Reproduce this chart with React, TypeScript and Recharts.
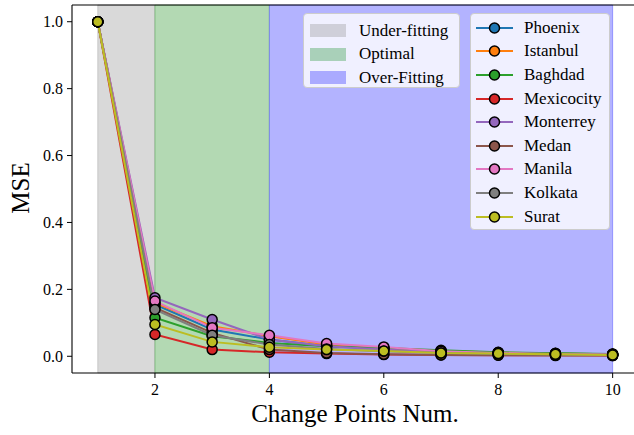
import { LineChart, Line, XAxis, YAxis, ReferenceArea, ReferenceLine, Label } from "recharts";

const changePoints = [1, 2, 3, 4, 5, 6, 7, 8, 9, 10];

const phoenix = [1.0, 0.155, 0.08, 0.05, 0.03, 0.022, 0.015, 0.01, 0.008, 0.006];
const istanbul = [1.0, 0.16, 0.09, 0.06, 0.035, 0.025, 0.016, 0.011, 0.008, 0.006];
const baghdad = [1.0, 0.115, 0.06, 0.04, 0.03, 0.025, 0.018, 0.012, 0.009, 0.007];
const mexicocity = [1.0, 0.065, 0.02, 0.012, 0.008, 0.005, 0.004, 0.003, 0.003, 0.002];
const monterrey = [1.0, 0.175, 0.11, 0.05, 0.03, 0.02, 0.012, 0.008, 0.006, 0.005];
const medan = [1.0, 0.145, 0.07, 0.02, 0.01, 0.006, 0.004, 0.003, 0.002, 0.002];
const manila = [1.0, 0.165, 0.085, 0.063, 0.038, 0.028, 0.015, 0.01, 0.007, 0.005];
const kolkata = [1.0, 0.14, 0.063, 0.035, 0.022, 0.015, 0.01, 0.007, 0.005, 0.004];
const surat = [1.0, 0.095, 0.043, 0.027, 0.02, 0.016, 0.01, 0.008, 0.006, 0.004];

const cities = [
  { name: "Phoenix", values: phoenix, color: "#1f77b4" },
  { name: "Istanbul", values: istanbul, color: "#ff7f0e" },
  { name: "Baghdad", values: baghdad, color: "#2ca02c" },
  { name: "Mexicocity", values: mexicocity, color: "#d62728" },
  { name: "Monterrey", values: monterrey, color: "#9467bd" },
  { name: "Medan", values: medan, color: "#8c564b" },
  { name: "Manila", values: manila, color: "#e377c2" },
  { name: "Kolkata", values: kolkata, color: "#7f7f7f" },
  { name: "Surat", values: surat, color: "#bcbd22" },
];

const spans = [
  { name: "Under-fitting", from: 1, to: 2, fill: "#d9d9d9", edge: "rgba(128,128,128,0.3)", swatch: "#cfcfd9" },
  { name: "Optimal", from: 2, to: 4, fill: "#b3d9b3", edge: "rgba(0,128,0,0.3)", swatch: "#a9d0b9" },
  { name: "Over-Fitting", from: 4, to: 10, fill: "#b3b3ff", edge: "rgba(0,0,255,0.3)", swatch: "#aaaaff" },
];

const xTicks = [2, 4, 6, 8, 10];
const yTicks = [0, 0.2, 0.4, 0.6, 0.8, 1.0];

const data = changePoints.map((x, i) => {
  const row: Record<string, number> = { x };
  cities.forEach((c) => (row[c.name] = c.values[i]));
  return row;
});

const font = "Liberation Serif";

const XTick = ({ x, y, payload }: any) => (
  <text x={x} y={y} dy="0.75em" textAnchor="middle" fontFamily={font} fontSize={16} fill="#000">
    {payload.value}
  </text>
);

const YTick = ({ x, y, payload }: any) => (
  <text x={x} y={y} dy="0.33em" textAnchor="end" fontFamily={font} fontSize={16} fill="#000">
    {Number(payload.value).toFixed(1)}
  </text>
);

const boxStyle: React.CSSProperties = {
  position: "absolute",
  top: 13,
  background: "rgba(255,255,255,0.8)",
  border: "1px solid #cccccc",
  borderRadius: 4,
  boxSizing: "border-box",
  fontFamily: font,
  fontSize: 17,
  color: "#000",
};

export default function App() {
  return (
    <div
      style={{
        position: "absolute",
        left: 0,
        top: 0,
        width: 634,
        height: 435,
        overflow: "hidden",
        background: "#fff",
        fontFamily: font,
      }}
    >
      <LineChart width={640} height={435} data={data} margin={{ top: 5, right: 1.6, bottom: 0, left: 0 }}>
        {spans.map((s) => (
          <ReferenceArea key={s.name} x1={s.from} x2={s.to} fill={s.fill} fillOpacity={1} stroke={s.edge} strokeWidth={1} />
        ))}
        <ReferenceLine y={1.05} stroke="#000" strokeWidth={1.1} />
        <XAxis
          dataKey="x"
          type="number"
          domain={[0.55, 10.45]}
          ticks={xTicks}
          allowDataOverflow
          height={62}
          tickSize={5}
          tickMargin={5}
          tick={XTick}
          axisLine={{ stroke: "#000", strokeWidth: 1.1 }}
          tickLine={{ stroke: "#000" }}
        >
          <Label
            content={() => (
              <text x={355} y={422} textAnchor="middle" fontFamily={font} fontSize={25} fill="#000">
                Change Points Num.
              </text>
            )}
          />
        </XAxis>
        <YAxis
          type="number"
          domain={[-0.05, 1.05]}
          ticks={yTicks}
          allowDataOverflow
          width={72}
          tickSize={5}
          tickMargin={4}
          tick={YTick}
          axisLine={{ stroke: "#000", strokeWidth: 1.1 }}
          tickLine={{ stroke: "#000" }}
        >
          <Label
            content={() => (
              <text
                x={20}
                y={188}
                transform="rotate(-90, 20, 188)"
                textAnchor="middle"
                dominantBaseline="central"
                fontFamily={font}
                fontSize={25}
                fill="#000"
              >
                MSE
              </text>
            )}
          />
        </YAxis>
        {cities.map((c) => (
          <Line
            key={c.name}
            dataKey={c.name}
            stroke={c.color}
            strokeWidth={2}
            dot={{ r: 5, fill: c.color, stroke: "#000", strokeWidth: 1.5 }}
            isAnimationActive={false}
          />
        ))}
      </LineChart>

      <div style={{ ...boxStyle, left: 303, width: 157, height: 75, padding: "5px 0 0 6px" }}>
        {spans.map((s) => (
          <div key={s.name} style={{ display: "flex", alignItems: "center", height: 23.6 }}>
            <div style={{ width: 36, height: 13, background: s.swatch, marginRight: 13 }} />
            <span>{s.name}</span>
          </div>
        ))}
      </div>

      <div style={{ ...boxStyle, left: 470, width: 140, height: 217, padding: "2px 0 0 5px" }}>
        {cities.map((c) => (
          <div key={c.name} style={{ display: "flex", alignItems: "center", height: 23.6 }}>
            <svg width={37} height={14} style={{ marginRight: 11 }}>
              <line x1={0} y1={7} x2={37} y2={7} stroke={c.color} strokeWidth={2} />
              <circle cx={18.5} cy={7} r={5} fill={c.color} stroke="#000" strokeWidth={1.5} />
            </svg>
            <span>{c.name}</span>
          </div>
        ))}
      </div>
    </div>
  );
}
